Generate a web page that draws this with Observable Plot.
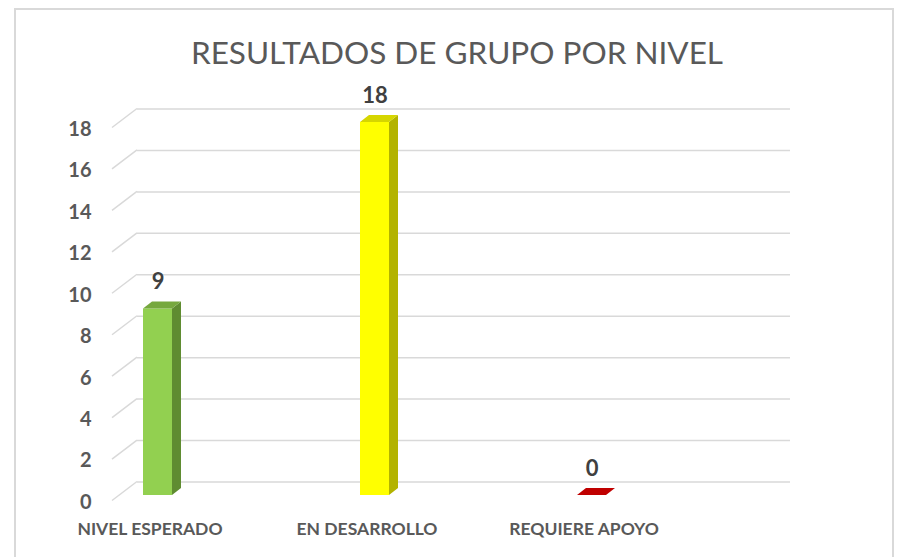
<!DOCTYPE html>
<html>
<head>
<meta charset="utf-8">
<script src="https://cdn.jsdelivr.net/npm/d3@7"></script>
<script src="https://cdn.jsdelivr.net/npm/@observablehq/plot@0.6"></script>
<style>
  html, body { margin: 0; padding: 0; background: #fff; }
  #wrap { position: relative; width: 900px; height: 557px; overflow: hidden; background: #fff; }
  #frame { position: absolute; left: 14px; top: 8px; width: 880px; height: 600px; border: 2px solid #D9D9D9; box-sizing: border-box; }
  #title { position: relative; height: 80px; margin: 0; padding: 0; text-align: center; font-family: Lato, sans-serif; font-weight: 400; font-size: 31.5px; color: #595959; line-height: 30px; padding-top: 37px; box-sizing: border-box; padding-left: 14px; }
  #chart { position: relative; }
</style>
</head>
<body>
<div id="wrap">
  <div id="frame"></div>
  <div id="title">RESULTADOS DE GRUPO POR NIVEL</div>
  <div id="chart"></div>
</div>
<script>
// ---- data ----
const categories = ["NIVEL ESPERADO", "EN DESARROLLO", "REQUIERE APOYO"];
const values = [9, 18, 0];
const yTicks = [0, 2, 4, 6, 8, 10, 12, 14, 16, 18];
const frontColors = ["#92D050", "#FFFF00", "#C00000"];
const sideColors = ["#5F8C31", "#B3B300", "#8C0000"];
const topColors = ["#76A83E", "#D6D600", "#C00000"];

const rows = categories.map((c, i) => ({cat: c, value: values[i], front: frontColors[i], side: sideColors[i], top: topColors[i]}));

// 3D geometry (pixels)
const depthBarX = 9, depthBarY = -7;      // bar depth offset
const gridFrontDx = -25, gridFrontDy = 5.5; // front edge of floor relative to bar front
const gridBackDy = -13.5;                   // back wall relative to bar front

function findScales(args) {
  return args.find(a => a && typeof a.y === "function" && typeof a.x === "function");
}

// diagonal floor/grid lines on the left side wall
function gridDiagonals(...args) {
  const s = findScales(args);
  const g = d3.create("svg:g").attr("stroke", "#D9D9D9").attr("stroke-width", 1.5).attr("fill", "none");
  const xb = 137;
  for (const t of yTicks) {
    const y = s.y(t);
    g.append("line")
      .attr("x1", xb + gridFrontDx).attr("y1", y + gridFrontDy)
      .attr("x2", xb).attr("y2", y + gridBackDy);
  }
  return g.node();
}

// side and top faces of the 3D columns
function barFaces(...args) {
  const s = findScales(args);
  const bw = typeof s.x.bandwidth === "function" ? s.x.bandwidth() : 29;
  const g = d3.create("svg:g");
  for (const r of rows) {
    const x0 = s.x(r.cat), x1 = x0 + bw;
    const yv = s.y(r.value), y0 = s.y(0);
    if (r.value > 0) {
      g.append("polygon")
        .attr("points", [[x1, yv], [x1 + depthBarX, yv + depthBarY], [x1 + depthBarX, y0 + depthBarY], [x1, y0]].join(" "))
        .attr("fill", r.side);
    }
    g.append("polygon")
      .attr("points", [[x0, yv], [x0 + depthBarX, yv + depthBarY], [x1 + depthBarX, yv + depthBarY], [x1, yv]].join(" "))
      .attr("fill", r.top);
  }
  return g.node();
}

const plot = Plot.plot({
  width: 900,
  height: 477,
  marginLeft: 137,
  marginRight: 110,
  marginTop: 20,
  marginBottom: 40,
  style: {background: "transparent", fontFamily: "Lato, sans-serif", overflow: "visible"},
  x: {type: "band", domain: categories, range: [143, 606], paddingInner: 0.8664, paddingOuter: 0, axis: null},
  y: {domain: [0, 18], range: [415, 42], axis: null},
  marks: [
    Plot.ruleY(yTicks, {y: d => d, dy: gridBackDy, stroke: "#D9D9D9", strokeWidth: 1.5}),
    gridDiagonals,
    Plot.text(yTicks, {y: d => d, frameAnchor: "left", dx: -46, dy: 7, textAnchor: "end", text: d => String(d),
      fill: "#595959", fontSize: 20, fontWeight: "bold"}),
    Plot.barY(rows, {x: "cat", y: "value", fill: "front", insetLeft: 0, insetRight: 0}),
    barFaces,
    Plot.text(rows, {x: "cat", y: "value", text: d => String(d.value), dy: -27, fill: "#404040", fontSize: 22, fontWeight: "bold"}),
    Plot.text(rows, {x: "cat", y: () => 0, text: "cat", dy: 34, dx: -8, fill: "#595959", fontSize: 17.5, fontWeight: "bold"})
  ]
});
document.getElementById("chart").appendChild(plot);
</script>
</body>
</html>
